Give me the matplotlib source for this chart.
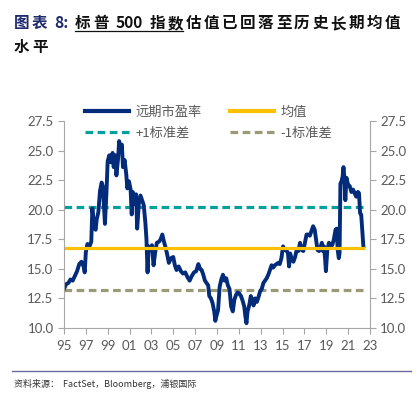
import matplotlib
matplotlib.use('Agg')
import matplotlib.pyplot as plt
from matplotlib.lines import Line2D

plt.rcParams['font.family'] = ['Noto Sans CJK SC', 'DejaVu Sans']

# S&P 500 forward P/E (decimal years)
dates = [1995.0, 1995.2, 1995.4, 1995.6, 1995.8, 1996.0, 1996.2, 1996.4, 1996.6, 1996.8,
         1996.9, 1997.0, 1997.15, 1997.3, 1997.5, 1997.6, 1997.75, 1997.9, 1998.0, 1998.15,
         1998.3, 1998.45, 1998.55, 1998.65, 1998.75, 1998.9, 1999.0, 1999.15, 1999.3, 1999.45,
         1999.55, 1999.7, 1999.8, 1999.95, 2000.05, 2000.2, 2000.3, 2000.4, 2000.55, 2000.7,
         2000.8, 2000.95, 2001.1, 2001.2, 2001.3, 2001.45, 2001.6, 2001.7, 2001.85, 2002.0,
         2002.15, 2002.3, 2002.45, 2002.55, 2002.65, 2002.75, 2002.9, 2003.05, 2003.2, 2003.35,
         2003.5, 2003.7, 2003.85, 2004.0, 2004.15, 2004.3, 2004.45, 2004.6, 2004.8, 2005.0,
         2005.15, 2005.3, 2005.5, 2005.7, 2005.9, 2006.1, 2006.3, 2006.5, 2006.7, 2006.9,
         2007.1, 2007.3, 2007.45, 2007.6, 2007.75, 2007.9, 2008.05, 2008.2, 2008.3, 2008.45,
         2008.6, 2008.75, 2008.85, 2008.95, 2009.1, 2009.25, 2009.4, 2009.55, 2009.7, 2009.85,
         2010.0, 2010.15, 2010.3, 2010.45, 2010.6, 2010.75, 2010.9, 2011.05, 2011.2, 2011.35,
         2011.5, 2011.6, 2011.7, 2011.8, 2011.95, 2012.1, 2012.25, 2012.35, 2012.5, 2012.65,
         2012.8, 2012.95, 2013.1, 2013.25, 2013.4, 2013.55, 2013.7, 2013.85, 2014.0, 2014.15,
         2014.3, 2014.45, 2014.6, 2014.75, 2014.9, 2015.05, 2015.2, 2015.35, 2015.5, 2015.6,
         2015.7, 2015.85, 2016.0, 2016.15, 2016.3, 2016.45, 2016.6, 2016.75, 2016.9, 2017.05,
         2017.2, 2017.35, 2017.5, 2017.65, 2017.8, 2017.95, 2018.1, 2018.2, 2018.35, 2018.5,
         2018.6, 2018.7, 2018.8, 2018.9, 2018.97, 2019.1, 2019.25, 2019.4, 2019.55, 2019.7,
         2019.85, 2019.95, 2020.05, 2020.15, 2020.22, 2020.3, 2020.4, 2020.5, 2020.58, 2020.65,
         2020.75, 2020.85, 2021.0, 2021.15, 2021.3, 2021.45, 2021.6, 2021.75, 2021.9, 2022.0,
         2022.1, 2022.2, 2022.3, 2022.4]
fwd_pe = [13.3, 13.7, 13.8, 14.1, 14.0, 14.4, 14.8, 15.4, 15.6, 15.2,
          14.7, 16.4, 17.1, 16.8, 17.3, 20.1, 18.6, 18.3, 19.2, 19.8,
          21.6, 22.3, 22.0, 20.5, 18.8, 21.7, 24.1, 24.6, 24.0, 24.8,
          23.6, 24.6, 22.9, 24.3, 25.8, 25.1, 25.5, 23.6, 24.2, 23.0,
          21.8, 22.4, 21.7, 19.6, 21.5, 20.5, 21.3, 18.4, 20.5, 21.2,
          20.8, 20.4, 18.9, 17.5, 14.7, 16.9, 16.6, 17.0, 15.3, 16.4,
          17.2, 17.3, 17.5, 17.9, 17.3, 16.8, 16.2, 15.5, 15.9, 16.0,
          15.3, 14.9, 15.2, 14.8, 14.6, 14.7, 14.3, 14.0, 14.4, 14.7,
          14.8, 15.4, 15.0, 14.9, 14.5, 14.0, 13.8, 13.6, 12.7, 12.5,
          12.1, 11.4, 10.6, 11.0, 11.5, 13.5, 14.1, 14.5, 14.0, 14.2,
          13.6, 13.3, 11.8, 11.4, 12.4, 12.8, 13.0, 12.9, 12.7, 12.3,
          11.8, 11.0, 10.4, 11.4, 11.9, 12.7, 12.3, 11.9, 12.5, 12.2,
          12.6, 13.1, 13.3, 13.8, 14.0, 14.2, 14.5, 14.9, 15.3, 15.1,
          15.3, 15.4, 15.5, 15.4, 15.9, 16.9, 16.6, 16.6, 16.3, 15.2,
          16.3, 15.8, 15.6, 16.0, 16.6, 16.5, 17.2, 16.6, 16.5, 17.2,
          17.9, 17.9, 17.8, 18.2, 18.6, 18.3, 17.3, 16.6, 16.5, 16.9,
          17.2, 16.5, 16.9, 15.8, 14.8, 16.6, 17.2, 16.9, 17.0, 17.5,
          18.3, 18.4, 16.6, 15.9, 16.3, 22.2, 22.4, 22.8, 23.6, 22.8,
          20.8, 22.7, 22.1, 22.0, 21.5, 21.7, 21.4, 21.1, 21.5, 21.4,
          19.7, 19.6, 18.2, 16.9]

mean_pe = 16.75
plus_1sd = 20.2
minus_1sd = 13.25

years = list(range(1995, 2024, 2))
year_labels = [str(y)[2:] for y in years]
y_ticks = [10.0, 12.5, 15.0, 17.5, 20.0, 22.5, 25.0, 27.5]

navy = '#022B7A'
orange = '#FFC000'
teal = '#00A19B'
olive = '#9B9A77'
grey_text = '#595959'
spine_col = '#A6A6A6'

fig = plt.figure(figsize=(4.18, 3.98), dpi=100)
ax = fig.add_axes([0.153, 0.176, 0.732, 0.52])

x0, x1 = dates[0], dates[-1]
ax.plot([x0, x1], [plus_1sd, plus_1sd], color=teal, lw=2.3, dashes=(2.4, 1.4))
ax.plot([x0, x1], [minus_1sd, minus_1sd], color=olive, lw=2.3, dashes=(2.4, 1.4))
ax.plot(dates, fwd_pe, color=navy, lw=2.8, solid_joinstyle='round')
ax.plot([x0, x1], [mean_pe, mean_pe], color=orange, lw=2.3)

ax.set_xlim(1995, 2023)
ax.set_ylim(10, 27.5)
ax.set_xticks(years)
ax.set_xticklabels(year_labels)
ax.set_yticks(y_ticks)
ax.set_yticklabels(['%.1f' % v for v in y_ticks])
ax.tick_params(axis='both', colors=spine_col, labelcolor=grey_text, labelsize=9.5, length=4, width=0.8)
ax.tick_params(axis='y', right=True, labelright=True)
ax.tick_params(axis='x', pad=5)
for lab in ax.get_xticklabels() + ax.get_yticklabels():
    lab.set_fontfamily(['Lato', 'DejaVu Sans'])
for side in ('left', 'right', 'bottom'):
    ax.spines[side].set_color(spine_col)
    ax.spines[side].set_linewidth(0.8)
ax.spines['top'].set_visible(False)

handles = [Line2D([], [], color=navy, lw=3.0),
           Line2D([], [], color=teal, lw=2.3, dashes=(2.4, 1.4)),
           Line2D([], [], color=orange, lw=3.0),
           Line2D([], [], color=olive, lw=2.3, dashes=(2.4, 1.4))]
labels = ['远期市盈率', '+1标准差', '均值', '-1标准差']
leg = ax.legend(handles, labels, ncol=2, frameon=False, loc='upper left',
                bbox_to_anchor=(0.03, 1.13), fontsize=9.5, handlelength=3.3,
                columnspacing=2.2, labelspacing=0.6, handletextpad=0.5)
for t in leg.get_texts():
    t.set_color(grey_text)

# title: placed piece by piece for the wide letter spacing, part underlined
renderer = fig.canvas.get_renderer()
title_parts = [(['图', '表', ' ', '8:', ' '], '#1F2A6E', False),
               (['标', '普', ' ', '500', ' ', '指', '数'], '#111111', True),
               (list('估值已回落至历史长期均值'), '#111111', False)]
gap = 2.6 / 418


def put_chars(pieces, x, y, col):
    x_start = x
    for ch in pieces:
        if ch == ' ':
            x += 4 / 418
            continue
        t = fig.text(x, y, ch, color=col, fontsize=11.2, fontweight='bold', va='baseline')
        bb = t.get_window_extent(renderer).transformed(fig.transFigure.inverted())
        x = bb.x1 + gap
    return x_start, x


x = 14 / 418
y = 1 - 28 / 398
for pieces, col, underline in title_parts:
    xs, x = put_chars(pieces, x, y, col)
    if underline:
        fig.add_artist(Line2D([xs, x - gap], [y - 3.5 / 398, y - 3.5 / 398], color='#111111', lw=0.9))
put_chars(['水', '平'], 14 / 418, 1 - 52 / 398, '#111111')

# footer
fig.add_artist(Line2D([12 / 418, 411 / 418], [1 - 371 / 398, 1 - 371 / 398], color='#6D6A9C', lw=1.0))
fig.text(14 / 418, 1 - 387 / 398, '资料来源：  FactSet，Bloomberg，浦银国际', color='#333333', fontsize=6.5,
         va='baseline')

fig.savefig('out.png', dpi=100)
